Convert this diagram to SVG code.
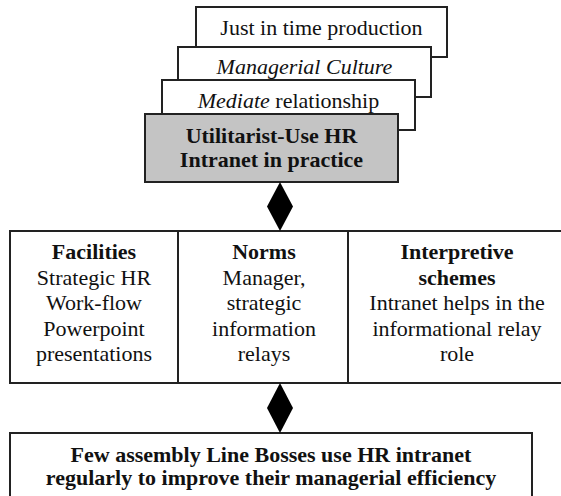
<svg xmlns="http://www.w3.org/2000/svg" width="561" height="496" viewBox="0 0 561 496">
  <style>
    .box { fill: #ffffff; stroke: #222222; stroke-width: 2; }
    .core { fill: #c4c4c4; stroke: #222222; stroke-width: 2; }
    .rule { stroke: #222222; stroke-width: 2; fill: none; }
    .link { fill: #000000; stroke: none; }
    text { font-family: "Liberation Serif", "Times New Roman", serif; font-size: 22px; fill: #111111; text-anchor: middle; }
    .b { font-weight: bold; }
    .i { font-style: italic; }
  </style>
  <rect width="561" height="496" fill="#ffffff"/>

  <!-- stacked context cards, back to front -->
  <g id="just-in-time">
    <rect class="box" x="196" y="7" width="251" height="50"/>
    <text x="321.5" y="35">Just in time production</text>
  </g>
  <g id="managerial-culture">
    <rect class="box" x="178" y="47" width="253" height="50"/>
    <text x="304.5" y="74" class="i">Managerial Culture</text>
  </g>
  <g id="mediate-relationship">
    <rect class="box" x="162" y="80" width="253" height="50"/>
    <text x="288.5" y="108"><tspan class="i">Mediate</tspan> relationship</text>
  </g>
  <g id="utilitarist-use">
    <rect class="core" x="145" y="114" width="253" height="68"/>
    <text x="271.5" y="143" class="b">Utilitarist-Use HR</text>
    <text x="271.5" y="167" class="b">Intranet in practice</text>
  </g>

  <!-- structuration dimensions -->
  <g id="dimensions">
    <rect class="box" x="10" y="231" width="560" height="152"/>
    <line class="rule" x1="178" y1="231" x2="178" y2="383"/>
    <line class="rule" x1="348" y1="231" x2="348" y2="383"/>
  </g>
  <g id="facilities">
    <text x="94" y="259" class="b">Facilities</text>
    <text x="94" y="285">Strategic HR</text>
    <text x="94" y="310">Work-flow</text>
    <text x="94" y="336">Powerpoint</text>
    <text x="94" y="361">presentations</text>
  </g>
  <g id="norms">
    <text x="264" y="259" class="b">Norms</text>
    <text x="264" y="285">Manager,</text>
    <text x="264" y="310">strategic</text>
    <text x="264" y="336">information</text>
    <text x="264" y="361">relays</text>
  </g>
  <g id="interpretive-schemes">
    <text x="457" y="259" class="b">Interpretive</text>
    <text x="457" y="285" class="b">schemes</text>
    <text x="457" y="310">Intranet helps in the</text>
    <text x="457" y="336">informational relay</text>
    <text x="457" y="361">role</text>
  </g>

  <!-- outcome -->
  <g id="outcome">
    <rect class="box" x="10" y="433" width="522" height="70"/>
    <text x="271" y="462" class="b">Few assembly Line Bosses use HR intranet</text>
    <text x="271" y="485" class="b">regularly to improve their managerial efficiency</text>
  </g>

  <!-- diamond connectors -->
  <g id="connectors">
    <polygon class="link" points="280,182 293,206.5 280,231 267,206.5"/>
    <polygon class="link" points="280,383 293,408 280,433 267,408"/>
  </g>
</svg>
